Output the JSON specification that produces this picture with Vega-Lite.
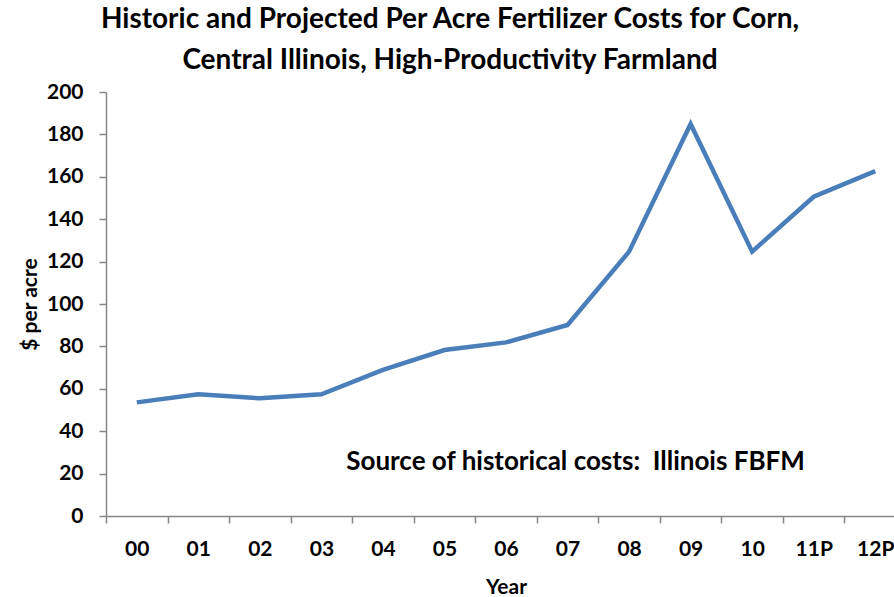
{
  "$schema": "https://vega.github.io/schema/vega-lite/v6.json",
  "width": 800,
  "height": 424,
  "autosize": {"type": "none"},
  "padding": {"left": 106, "top": 92, "right": 0, "bottom": 81},
  "background": "white",
  "config": {
    "font": "Lato",
    "view": {"stroke": null},
    "axis": {"grid": false, "domainColor": "#868686", "tickColor": "#868686", "labelColor": "#000000", "titleColor": "#000000", "labelFont": "Lato", "titleFont": "Lato", "labelFontWeight": "bold", "titleFontWeight": "bold", "labelFontSize": 21, "titleFontSize": 21, "tickSize": 7, "domainWidth": 1.5, "tickWidth": 1.5}
  },
  "title": {
    "text": ["Historic and Projected Per Acre Fertilizer Costs for Corn,", "Central Illinois, High-Productivity Farmland"],
    "font": "Lato",
    "fontSize": 28,
    "fontWeight": "bold",
    "color": "#000000",
    "lineHeight": 41,
    "anchor": "middle",
    "frame": "group",
    "dx": -56,
    "offset": 6
  },
  "data": {
    "values": [
      {"year": "00", "cost": 53.6},
      {"year": "01", "cost": 57.4},
      {"year": "02", "cost": 55.5},
      {"year": "03", "cost": 57.4},
      {"year": "04", "cost": 68.9},
      {"year": "05", "cost": 78.3},
      {"year": "06", "cost": 81.9},
      {"year": "07", "cost": 90.1},
      {"year": "08", "cost": 124.7},
      {"year": "09", "cost": 184.9},
      {"year": "10", "cost": 124.7},
      {"year": "11P", "cost": 150.6},
      {"year": "12P", "cost": 162.7}
    ]
  },
  "layer": [
    {
      "mark": {"type": "line", "color": "#4A7EBB", "strokeWidth": 4.5, "strokeJoin": "miter"},
      "encoding": {
        "x": {"field": "year", "type": "ordinal", "sort": null, "scale": {"type": "band", "paddingInner": 0, "paddingOuter": 0}, "axis": {"title": "Year", "labelAngle": 0, "tickBand": "extent", "labelPadding": 15, "titlePadding": 17}},
        "y": {"field": "cost", "type": "quantitative", "scale": {"domain": [0, 200], "nice": false}, "axis": {"title": "$ per acre", "values": [0, 20, 40, 60, 80, 100, 120, 140, 160, 180, 200], "labelPadding": 16, "titlePadding": 6}}
      }
    },
    {
      "data": {"values": [{"note": "Source of historical costs:\u00a0 Illinois FBFM"}]},
      "mark": {"type": "text", "font": "Lato", "fontSize": 26, "fontWeight": "bold", "color": "#000000", "align": "center", "baseline": "middle", "dx": 8},
      "encoding": {
        "text": {"field": "note"},
        "x": {"datum": "07"},
        "y": {"datum": 25.5}
      }
    }
  ]
}
